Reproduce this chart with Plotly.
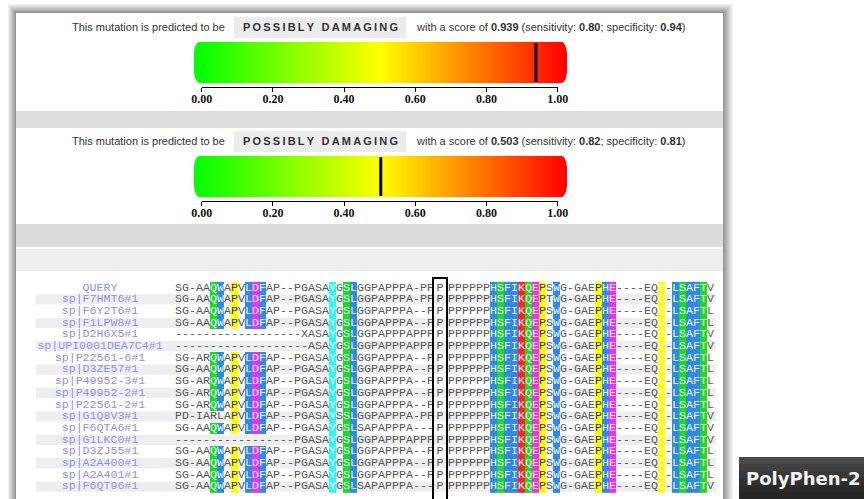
import numpy as np
import plotly.graph_objects as go

W, H = 864, 499

# ---------------- data ----------------
scores = [0.939, 0.503]
sensitivity = ["0.80", "0.82"]
specificity = ["0.94", "0.81"]
predictions = ["POSSIBLY DAMAGING", "POSSIBLY DAMAGING"]
tick_vals = [0.0, 0.2, 0.4, 0.6, 0.8, 1.0]
tick_labels = ["0.00", "0.20", "0.40", "0.60", "0.80", "1.00"]
ramp_colors = ["#00ff00", "#ffff00", "#ff0000"]

seq_ids = ["QUERY", "sp|F7HMT6#1", "sp|F6Y2T6#1", "sp|F1LPW8#1", "sp|D2H6X5#1",
           "sp|UPI0001DEA7C4#1", "sp|P22561-6#1", "sp|D3ZE57#1", "sp|P49952-3#1",
           "sp|P49952-2#1", "sp|P22561-2#1", "sp|G1Q8V3#1", "sp|F6QTA6#1",
           "sp|G1LKC0#1", "sp|D3ZJ55#1", "sp|A2A400#1", "sp|A2A401#1", "sp|F6QT96#1"]
seq_left = [
    "SG-AAQWAPVLDFAP--PGASAYGSLGGPAPPPA-PP",
    "SG-AAQWAPVLDFAP--PGASAYGSLGGPAPPPA-PP",
    "SG-AAQWAPVLDFAP--PGASAYGSLGGPAPPPA--P",
    "SG-AAQWAPVLDFAP--PGASAYGSLGGPAPPPA--P",
    "------------------XASAYGSLGGPAPPPAPPP",
    "-------------------ASAYGSLGGPAPPPAPPP",
    "SG-ARQWAPVLDFAP--PGASAYGSLGGPAPPPA--P",
    "SG-AAQWAPVLDFAP--PGASAYGSLGGPAPPPA--P",
    "SG-ARQWAPVLDFAP--PGASAYGSLGGPAPPPA--P",
    "SG-ARQWAPVLDFAP--PGASAYGSLGGPAPPPA--P",
    "SG-ARQWAPVLDFAP--PGASAYGSLGGPAPPPA--P",
    "PD-IARLAPVLDFAP--PGASAYSSLGGPAPPPA-PP",
    "SG-AAQWAPVLDFAP--PGASAYGSLSAPAPPPA---",
    "-----------------PGASAYGSLGGPAPPPAPPP",
    "SG-AAQWAPVLDFAP--PGASAYGSLGGPAPPPA--P",
    "SG-AAQWAPVLDFAP--PGASAYGSLGGPAPPPA--P",
    "SG-AAQWAPVLDFAP--PGASAYGSLGGPAPPPA--P",
    "SG-AAQWAPVLDFAP--PGASAYGSLSAPAPPPA---",
]
seq_mid = ["P"] * 18
seq_right = [
    "PPPPPPHSFIKQEPSWG-GAEPHE----EQC-LSAFTV",
    "PPPPPPHSFIKQEPTWG-GAEPHE----EQC-LSAFTV",
    "PPPPPPHSFIKQEPSWG-GAEPHE----EQC-LSAFTL",
    "PPPPPPHSFIKQEPSWG-GAEPHE----EQC-LSAFTL",
    "PPPPPPHSFIKQEPSWG-GAEPHE----EQC-LSAFTV",
    "PPPPPPHSFIKQEPSWG-GAEPHE----EQC-LSAFTV",
    "PPPPPPHSFIKQEPSWG-GAEPHE----EQC-LSAFTL",
    "PPPPPPHSFIKQEPSWG-GAEPHE----EQC-LSAFTL",
    "PPPPPPHSFIKQEPSWG-GAEPHE----EQC-LSAFTL",
    "PPPPPPHSFIKQEPSWG-GAEPHE----EQC-LSAFTL",
    "PPPPPPHSFIKQEPSWG-GAEPHE----EQC-LSAFTL",
    "PPPPPPHSFIKQEPSWG-GAEPHE----EQC-LSAFTV",
    "PPPPPPHSFIKQEPSWG-GAEPHE----EQC-LSAFTV",
    "PPPPPPHSFIKQEPSWG-GAEPHE----EQC-LSAFTV",
    "PPPPPPHSFIKQEPSWG-GAEPHE----EQC-LSAFTL",
    "PPPPPPHSFIKQEPSWG-GAEPHE----EQC-LSAFTL",
    "PPPPPPHSFIKQEPSWG-GAEPHE----EQC-LSAFTL",
    "PPPPPPHSFIKQEPSWG-GAEPHE----EQC-LSAFTV",
]
left_hl_cols = [5, 6, 8, 10, 11, 12, 22, 24, 25]
right_hl_cols = [6, 7, 8, 9, 10, 11, 12, 13, 15, 21, 22, 23, 30, 32, 33, 34, 35, 36]
residue_groups = {"green": "QST", "blue": "WLFIAHVM", "magenta": "DE",
                  "yellow": "PC", "cyan": "Y", "red": "KR"}
group_order = ["green", "blue", "magenta", "yellow", "cyan", "red"]
group_colors = {"green": "#22d822", "blue": "#3189e4", "magenta": "#f22ef2",
                "yellow": "#ffff00", "cyan": "#2ff5f5", "red": "#ff2424"}

# ---------------- layout helpers ----------------
PANEL_L, PANEL_R, PANEL_T = 16, 723, 13
CH_W, ROW_H = 7.0, 11.7
SEQ_X0, ROW_Y0 = 175.0, 287.7
RIGHT_START = 39          # alignment column where right block starts
MID_COL = 37.36           # boxed column
LABEL_X_PX = 100


def px_c(px):
    return (px - SEQ_X0) / CH_W - 0.5


def px_r(py):
    return (py - ROW_Y0) / ROW_H


fig = go.Figure()
shapes = []
annotations = []

layout = dict(width=W, height=H, autosize=False,
              margin=dict(l=0, r=0, t=0, b=0, pad=0, autoexpand=False),
              paper_bgcolor="white", plot_bgcolor="rgba(0,0,0,0)",
              showlegend=False)
layout["xaxis"] = dict(domain=[0, 1], range=[0, W], visible=False, fixedrange=True,
                       automargin=False)
layout["yaxis"] = dict(domain=[0, 1], range=[H, 0], visible=False, fixedrange=True,
                       automargin=False)
fig.add_trace(go.Scatter(x=[], y=[], xaxis="x", yaxis="y", hoverinfo="skip"))

# panel shadow
for d in range(10, 0, -1):
    g = int(150 + (d - 1) * 11.5)
    shapes.append(dict(type="rect", xref="x", yref="y", layer="below",
                       x0=PANEL_L - d * 0.9, x1=PANEL_R + d * 1.1,
                       y0=PANEL_T - d, y1=H + 20,
                       fillcolor=f"rgb({g},{g},{g})", line=dict(width=0)))
shapes.append(dict(type="rect", xref="x", yref="y", layer="below",
                   x0=PANEL_L, x1=PANEL_R, y0=PANEL_T, y1=H + 20,
                   fillcolor="white", line=dict(width=0)))
# grey bands
for (y0, y1, c) in [(111, 128, "#dddddd"), (224, 247, "#dcdcdc"), (249, 271, "#eeeeee")]:
    shapes.append(dict(type="rect", xref="x", yref="y", layer="below",
                       x0=PANEL_L, x1=PANEL_R, y0=y0, y1=y1,
                       fillcolor=c, line=dict(width=0)))

# PolyPhen-2 box
for i, c in enumerate(["#4a4a4a", "#404040", "#383838", "#303030", "#2a2a2a", "#252525"]):
    shapes.append(dict(type="rect", xref="x", yref="y", layer="below",
                       x0=739, x1=W + 2, y0=457 + i * 7, y1=457 + (i + 1) * 7 + 1,
                       fillcolor=c, line=dict(width=0)))
annotations.append(dict(xref="x", yref="y", x=744, y=478, xanchor="left", yanchor="middle",
                        text="<b>PolyPhen-2</b>", showarrow=False,
                        font=dict(family="DejaVu Sans", size=18, color="#f2f2f2")))

# ---------------- score panels ----------------
BAR_L, BAR_R = 194.0, 567.0
AX_L, AX_R = 201.7, 557.7
span = AX_R - AX_L
lo = -(AX_L - BAR_L) / span
hi = 1 + (BAR_R - AX_R) / span
n_ramp = 373
edges = np.linspace(lo, hi, n_ramp + 1)
ramp_z = [list((edges[:-1] + edges[1:]) / 2)]

for k, s in enumerate(scores):
    off = 114 * k
    top_px, bot_px, axis_px = 41.7 + off, 83.3 + off, 86.7 + off
    bx, sx = 2 + 2 * k, 3 + 2 * k
    # gradient bar subplot
    layout[f"xaxis{bx}"] = dict(domain=[BAR_L / W, BAR_R / W], range=[lo, hi],
                                anchor=f"y{bx}", visible=False, fixedrange=True,
                                automargin=False)
    layout[f"yaxis{bx}"] = dict(domain=[1 - bot_px / H, 1 - top_px / H], range=[0, 1],
                                anchor=f"x{bx}", visible=False, fixedrange=True,
                                automargin=False)
    fig.add_trace(go.Heatmap(x=edges, y=[0, 1], z=ramp_z, zmin=lo, zmax=hi,
                             colorscale=[[0, ramp_colors[0]], [0.5, ramp_colors[1]],
                                         [1, ramp_colors[2]]],
                             showscale=False, hoverinfo="skip",
                             xaxis=f"x{bx}", yaxis=f"y{bx}"))
    fig.add_trace(go.Scatter(x=[s, s], y=[0.03, 0.965], mode="lines",
                             line=dict(color="black", width=3), hoverinfo="skip",
                             xaxis=f"x{bx}", yaxis=f"y{bx}"))
    # scale axis subplot
    layout[f"xaxis{sx}"] = dict(domain=[AX_L / W, AX_R / W], range=[0, 1],
                                anchor=f"y{sx}", showline=True, linecolor="black",
                                linewidth=1, ticks="outside", ticklen=4, tickwidth=1,
                                tickcolor="black", tickvals=tick_vals, ticktext=tick_labels,
                                ticklabelstandoff=-3,
                                tickfont=dict(family="Liberation Serif", size=12,
                                              color="#111", weight="bold"),
                                showgrid=False, zeroline=False, fixedrange=True,
                                automargin=False)
    layout[f"yaxis{sx}"] = dict(domain=[1 - axis_px / H, 1 - (axis_px - 3) / H],
                                range=[0, 1], anchor=f"x{sx}", visible=False,
                                fixedrange=True, automargin=False)
    fig.add_trace(go.Scatter(x=[], y=[], xaxis=f"x{sx}", yaxis=f"y{sx}", hoverinfo="skip"))

    # rounded ends masks
    rx, ry = 6, 13
    L, R, t, b = BAR_L, BAR_R, top_px, bot_px
    kk = 0.448
    paths = [
        f"M {L-1},{t-1} L {L+rx},{t-1} L {L+rx},{t} C {L+rx*kk},{t} {L},{t+ry*kk} {L},{t+ry} L {L-1},{t+ry} Z",
        f"M {L-1},{b+1} L {L+rx},{b+1} L {L+rx},{b} C {L+rx*kk},{b} {L},{b-ry*kk} {L},{b-ry} L {L-1},{b-ry} Z",
        f"M {R+1},{t-1} L {R-rx},{t-1} L {R-rx},{t} C {R-rx*kk},{t} {R},{t+ry*kk} {R},{t+ry} L {R+1},{t+ry} Z",
        f"M {R+1},{b+1} L {R-rx},{b+1} L {R-rx},{b} C {R-rx*kk},{b} {R},{b-ry*kk} {R},{b-ry} L {R+1},{b-ry} Z",
    ]
    for p in paths:
        shapes.append(dict(type="path", xref="x", yref="y", layer="above", path=p,
                           fillcolor="white", line=dict(width=0)))

    # sentence
    ty = 27 + off
    shapes.append(dict(type="rect", xref="x", yref="y", layer="below",
                       x0=234, x1=406, y0=ty - 10, y1=ty + 11,
                       fillcolor="#ececec", line=dict(width=0)))
    annotations.append(dict(xref="x", yref="y", x=70, y=ty, xanchor="left", yanchor="middle",
                            text="This mutation is predicted to be", showarrow=False,
                            font=dict(family="Liberation Sans", size=11, color="#333")))
    annotations.append(dict(xref="x", yref="y", x=320, y=ty, xanchor="center", yanchor="middle",
                            text="<b>" + "\u2009".join(predictions[k]) + "</b>", showarrow=False,
                            font=dict(family="Liberation Sans", size=11, color="#333")))
    annotations.append(dict(xref="x", yref="y", x=414, y=ty, xanchor="left", yanchor="middle",
                            text=(f"with a score of <b>{s:.3f}</b> (sensitivity: <b>{sensitivity[k]}</b>; "
                                  f"specificity: <b>{specificity[k]}</b>)"),
                            showarrow=False,
                            font=dict(family="Liberation Sans", size=11, color="#333")))

# ---------------- alignment ----------------
AX = "x6"
AY = "y6"
layout["xaxis6"] = dict(domain=[0, 1], range=[px_c(0), px_c(W)], anchor="y6",
                        visible=False, fixedrange=True, automargin=False)
layout["yaxis6"] = dict(domain=[0, 1], range=[px_r(H), px_r(0)], anchor="x6",
                        visible=False, fixedrange=True, automargin=False)

n_rows = len(seq_ids)
n_cols = RIGHT_START + len(seq_right[0])

# row stripes
for r in range(1, n_rows, 2):
    shapes.append(dict(type="rect", xref=AX, yref=AY, layer="below",
                       x0=px_c(36), x1=px_c(716), y0=r - 0.44, y1=r + 0.44,
                       fillcolor="#eeeeee", line=dict(width=0)))


def group_of(ch):
    for gname in group_order:
        if ch in residue_groups[gname]:
            return gname
    return None


zcat = [[None] * n_cols for _ in range(n_rows)]
txt = {"normal": ([], [], []), "light": ([], [], []), "dark": ([], [], [])}
query_left, query_right = seq_left[0], seq_right[0]


def add_chars(seq, query, hl_cols, r, start):
    for j, ch in enumerate(seq):
        kind = "normal"
        if j in hl_cols and ch == query[j] and ch != "-":
            gname = group_of(ch)
            if gname:
                zcat[r][start + j] = group_order.index(gname)
                kind = "dark" if ch == "P" else "light"
        txt[kind][0].append(start + j)
        txt[kind][1].append(r)
        txt[kind][2].append(ch)


for r in range(n_rows):
    add_chars(seq_left[r], query_left, left_hl_cols, r, 0)
    txt["normal"][0].append(MID_COL)
    txt["normal"][1].append(r)
    txt["normal"][2].append(seq_mid[r])
    add_chars(seq_right[r], query_right, right_hl_cols, r, RIGHT_START)

ng = len(group_order)
cs = []
for i, gname in enumerate(group_order):
    cs.append([i / ng, group_colors[gname]])
    cs.append([(i + 1) / ng, group_colors[gname]])
fig.add_trace(go.Heatmap(x=list(range(n_cols)), y=list(range(n_rows)), z=zcat,
                         zmin=-0.5, zmax=ng - 0.5, colorscale=cs, showscale=False,
                         hoverinfo="skip", xaxis=AX, yaxis=AY))

mono = "Liberation Mono"
tcolors = {"normal": "#555555", "light": "rgba(255,255,255,0.92)", "dark": "#333333"}
for kind, (xs, ys, ts) in txt.items():
    fig.add_trace(go.Scatter(x=xs, y=ys, text=ts, mode="text", textposition="middle center",
                             textfont=dict(family=mono, size=11.6, color=tcolors[kind]),
                             hoverinfo="skip", cliponaxis=False, xaxis=AX, yaxis=AY))

fig.add_trace(go.Scatter(x=[px_c(LABEL_X_PX)] * n_rows, y=list(range(n_rows)), text=seq_ids,
                         mode="text", textposition="middle center",
                         textfont=dict(family=mono, size=11.6, color="#8e8ef2"),
                         hoverinfo="skip", cliponaxis=False, xaxis=AX, yaxis=AY))

# box around the mutated column
shapes.append(dict(type="rect", xref=AX, yref=AY, layer="above",
                   x0=px_c(433), x1=px_c(447), y0=px_r(278), y1=px_r(H + 20),
                   fillcolor="rgba(0,0,0,0)", line=dict(color="black", width=2)))

layout["shapes"] = shapes
layout["annotations"] = annotations
fig.update_layout(**layout)
fig.write_html("out.html", config={"displayModeBar": False, "staticPlot": True},
               post_script="document.body.style.margin='0';document.body.style.overflow='hidden';")
